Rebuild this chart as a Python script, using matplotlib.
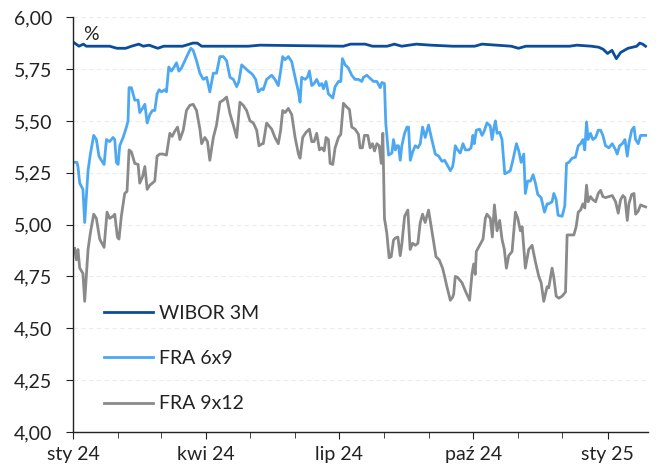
import matplotlib
matplotlib.use("Agg")
import matplotlib.pyplot as plt
import matplotlib.dates as mdates
import pandas as pd
import numpy as np

# ---- data (day offsets from 2024-01-01, values in %) ----
wibor_days = [0, 2, 4, 7, 9, 25, 30, 36, 40, 45, 48, 52, 58, 62, 75, 82, 85, 88, 120, 128,
              185, 190, 200, 205, 215, 220, 225, 235, 245, 260, 275, 280, 290, 300, 305, 310,
              340, 345, 355, 360, 363, 366, 369, 372, 375, 380, 383, 386, 388, 390, 392]
wibor_vals = [5.88, 5.87, 5.86, 5.87, 5.86, 5.86, 5.85, 5.85, 5.86, 5.87, 5.86, 5.865, 5.85, 5.86,
              5.86, 5.875, 5.875, 5.86, 5.86, 5.865, 5.86, 5.87, 5.87, 5.86, 5.86, 5.87, 5.86,
              5.87, 5.865, 5.86, 5.86, 5.87, 5.865, 5.86, 5.85, 5.86, 5.86, 5.865, 5.86, 5.855,
              5.845, 5.825, 5.84, 5.80, 5.83, 5.85, 5.855, 5.86, 5.875, 5.87, 5.86]

fra69_days = [1.0, 2.6, 3.3, 4.5, 6.7, 7.9, 10.2, 11.8, 14.1, 15.9, 17.7, 19.3, 21.2, 22.8, 25.0,
              27.3, 28.5, 29.6, 30.8, 31.9, 34.2, 36.5, 37.6, 38.3, 39.9, 42.2, 44.5, 45.6, 47.5,
              49.1, 50.7, 52.5, 54.3, 55.9, 57.5, 58.9, 60.5, 62.8, 63.9, 65.5, 67.3, 69.2, 70.8,
              72.4, 74.2, 76.5, 78.8, 80.6, 82.2, 84.5, 86.8, 89.1, 91.4, 93.6, 96.0, 98.2, 100.5,
              102.8, 105.1, 107.4, 109.7, 112.0, 113.5, 115.4, 117.7, 120.0, 122.7, 125.0, 126.8,
              129.1, 130.2, 132.5, 136.0, 138.2, 140.5, 142.1, 143.5, 145.1, 147.4, 149.7, 152.0,
              154.3, 155.4, 156.5, 158.8, 160.4, 161.8, 163.4, 165.0, 166.8, 168.7, 170.3, 171.4,
              173.2, 174.8, 176.4, 177.8, 179.4, 181.7, 183.3, 184.4, 186.3, 188.5, 190.8, 193.1,
              195.4, 197.7, 198.8, 201.1, 203.4, 205.7, 208.0, 210.3, 211.4, 213.2, 214.1, 216.0,
              217.1, 218.3, 219.4, 220.6, 221.7, 222.8, 224.0, 225.1, 227.0, 228.6, 229.7, 230.9,
              232.5, 234.3, 236.1, 237.7, 239.3, 241.1, 243.4, 245.3, 248.0, 250.3, 252.6, 254.4,
              256.0, 258.3, 259.9, 260.6, 261.7, 263.3, 265.1, 267.0, 268.6, 270.9, 272.5, 273.8,
              274.7, 276.1, 278.4, 280.0, 281.2, 283.4, 285.7, 286.9, 288.0, 289.2, 290.3, 292.1,
              293.7, 295.6, 297.2, 299.4, 301.3, 303.6, 305.2, 306.8, 308.6, 309.7, 311.3, 313.2,
              315.0, 316.6, 318.2, 320.5, 322.8, 324.6, 325.7, 328.0, 329.2, 330.8, 332.1, 334.9,
              336.7, 337.9, 339.5, 341.7, 344.0, 345.9, 347.5, 349.1, 350.4, 351.6, 352.7, 354.3,
              355.9, 357.8, 359.6, 361.2, 362.8, 364.6, 366.9, 369.2, 371.5, 372.6, 374.2, 376.1,
              377.9, 379.5, 380.6, 382.5, 384.1, 385.2, 387.0, 388.6, 392.1]
fra69_vals = [5.30, 5.30, 5.28, 5.20, 5.17, 5.01, 5.26, 5.34, 5.43, 5.41, 5.33, 5.31, 5.29, 5.41, 5.40,
              5.42, 5.41, 5.30, 5.29, 5.38, 5.42, 5.47, 5.50, 5.66, 5.66, 5.60, 5.60, 5.54, 5.56,
              5.58, 5.49, 5.53, 5.55, 5.55, 5.63, 5.65, 5.64, 5.65, 5.64, 5.76, 5.74, 5.76, 5.78,
              5.74, 5.755, 5.79, 5.825, 5.85, 5.84, 5.79, 5.73, 5.70, 5.71, 5.64, 5.73, 5.73, 5.81,
              5.81, 5.79, 5.71, 5.70, 5.665, 5.69, 5.77, 5.755, 5.74, 5.725, 5.70, 5.64,
              5.655, 5.65, 5.70, 5.72, 5.70, 5.67, 5.74, 5.81, 5.795, 5.81, 5.785, 5.71,
              5.64, 5.59, 5.71, 5.70, 5.71, 5.74, 5.67, 5.68, 5.70, 5.67, 5.68, 5.655,
              5.69, 5.63, 5.62, 5.61, 5.665, 5.69, 5.69, 5.80, 5.77, 5.755, 5.72, 5.70,
              5.70, 5.69, 5.71, 5.72, 5.705, 5.69, 5.69, 5.66, 5.685, 5.68, 5.49, 5.335,
              5.34, 5.345, 5.41, 5.36, 5.38, 5.38, 5.31, 5.38, 5.44, 5.47, 5.47, 5.31,
              5.35, 5.38, 5.37, 5.39, 5.47, 5.42, 5.48, 5.42, 5.34, 5.33, 5.305, 5.31,
              5.29, 5.26, 5.28, 5.31, 5.38, 5.36, 5.345, 5.39, 5.36, 5.36, 5.37, 5.43,
              5.39, 5.455, 5.46, 5.43, 5.445, 5.49, 5.475, 5.41, 5.46, 5.50, 5.44, 5.445,
              5.41, 5.245, 5.25, 5.26, 5.315, 5.39, 5.355, 5.30, 5.34, 5.15, 5.21, 5.21,
              5.24, 5.20, 5.145, 5.13, 5.06, 5.10, 5.10, 5.11, 5.15, 5.12, 5.045, 5.04,
              5.09, 5.295, 5.30, 5.32, 5.325, 5.38, 5.39, 5.41, 5.36, 5.495, 5.41, 5.44,
              5.41, 5.42, 5.455, 5.455, 5.43, 5.38, 5.37, 5.39, 5.36, 5.34, 5.38, 5.39,
              5.41, 5.33, 5.39, 5.455, 5.47, 5.41, 5.39, 5.43, 5.43]

fra912_days = [1.0, 2.2, 3.3, 4.5, 6.7, 7.9, 10.2, 11.8, 14.1, 15.9, 18.2, 21.2, 23.2, 25.0, 27.3,
               28.5, 30.3, 31.4, 33.0, 35.3, 36.9, 38.3, 39.9, 42.2, 44.5, 45.6, 47.5, 49.1, 50.7,
               52.5, 54.3, 55.9, 57.5, 59.3, 61.6, 63.9, 66.2, 67.8, 69.6, 71.5, 73.1, 75.4, 77.6,
               79.9, 82.2, 84.5, 86.8, 88.0, 90.2, 92.0, 93.6, 96.0, 98.2, 100.5, 102.8, 105.1,
               107.4, 109.7, 112.0, 114.2, 116.5, 118.8, 121.1, 123.4, 125.7, 127.3, 129.5, 130.2,
               132.5, 136.0, 138.2, 140.5, 142.1, 143.5, 145.1, 147.4, 149.7, 152.0, 154.3, 155.4,
               157.2, 159.5, 161.8, 163.4, 165.0, 166.8, 168.7, 170.3, 171.9, 173.2, 174.8, 176.0,
               177.8, 179.4, 181.7, 183.3, 185.1, 186.9, 189.2, 190.8, 193.1, 195.4, 196.5, 198.1,
               199.5, 201.8, 203.4, 205.0, 206.4, 208.0, 209.6, 211.0, 212.1, 213.2, 214.8, 216.4,
               217.8, 219.4, 220.6, 222.4, 224.0, 225.1, 227.0, 229.2, 230.8, 232.5, 234.3, 236.1,
               237.7, 239.3, 241.1, 243.4, 245.7, 248.5, 250.7, 253.0, 254.4, 256.0, 258.3, 259.9,
               260.6, 261.7, 263.3, 266.3, 268.6, 271.5, 273.1, 274.3, 275.4, 276.1, 278.4, 280.7,
               282.3, 283.4, 285.7, 287.1, 288.5, 290.3, 292.1, 293.7, 295.3, 296.7, 298.3, 300.6,
               302.9, 304.5, 306.3, 307.5, 309.7, 312.0, 314.3, 316.6, 318.9, 320.5, 322.3, 324.6,
               325.7, 328.0, 329.2, 330.8, 332.6, 334.9, 337.2, 338.3, 340.6, 342.9, 344.5, 345.9,
               347.5, 349.1, 350.4, 351.6, 352.7, 354.3, 355.9, 357.8, 359.6, 361.2, 362.8, 364.6,
               366.9, 369.2, 371.5, 373.3, 374.9, 376.5, 377.9, 379.5, 380.6, 382.5, 384.1, 385.2,
               387.0, 388.6, 390.2, 392.1]
fra912_vals = [4.885, 4.83, 4.88, 4.79, 4.765, 4.63, 4.88, 4.96, 5.05, 5.03, 4.93, 4.89, 5.06, 5.03, 5.04,
               5.05, 4.94, 4.93, 5.04, 5.15, 5.16, 5.36, 5.35, 5.295, 5.29, 5.20, 5.23, 5.28, 5.17,
               5.19, 5.20, 5.21, 5.33, 5.34, 5.34, 5.335, 5.44, 5.425, 5.45, 5.47, 5.41, 5.455, 5.55,
               5.575, 5.58, 5.55, 5.46, 5.39, 5.42, 5.40, 5.31, 5.42, 5.48, 5.59, 5.60, 5.615,
               5.535, 5.48, 5.42, 5.59, 5.575, 5.55, 5.50, 5.49, 5.455, 5.38, 5.39, 5.39,
               5.49, 5.46, 5.42, 5.39, 5.455, 5.55, 5.54, 5.56, 5.53, 5.42, 5.34, 5.32,
               5.42, 5.445, 5.46, 5.40, 5.40, 5.44, 5.36, 5.37, 5.355, 5.42, 5.41, 5.295,
               5.29, 5.37, 5.42, 5.435, 5.585, 5.57, 5.555, 5.47, 5.46, 5.435, 5.37, 5.37,
               5.43, 5.43, 5.37, 5.39, 5.355, 5.39, 5.38, 5.295, 5.44, 5.03, 4.96, 4.84,
               4.845, 4.925, 4.935, 4.94, 4.85, 4.905, 5.04, 5.07, 4.88, 4.91, 4.90, 4.91,
               5.01, 5.05, 5.01, 5.07, 4.97, 4.845, 4.83, 4.79, 4.75, 4.70, 4.635, 4.65,
               4.665, 4.75, 4.745, 4.72, 4.68, 4.635, 4.76, 4.81, 4.76, 4.87, 4.90, 4.93,
               5.03, 5.05, 5.03, 4.94, 5.095, 4.97, 5.02, 4.93, 4.88, 4.79, 4.85, 4.87,
               5.06, 5.03, 4.97, 4.99, 4.79, 4.88, 4.90, 4.82, 4.75, 4.72, 4.63, 4.70,
               4.695, 4.79, 4.745, 4.655, 4.645, 4.655, 4.675, 4.95, 4.95, 4.95, 4.99, 5.06,
               5.07, 5.10, 5.08, 5.19, 5.11, 5.135, 5.12, 5.11, 5.15, 5.165, 5.135, 5.13,
               5.135, 5.14, 5.11, 5.055, 5.12, 5.14, 5.13, 5.02, 5.10, 5.145, 5.15, 5.05,
               5.065, 5.095, 5.09, 5.085]

series_names = ["WIBOR 3M", "FRA 6x9", "FRA 9x12"]
major_tick_dates = ["2024-01-01", "2024-04-01", "2024-07-01", "2024-10-01", "2025-01-01"]
major_tick_labels = ["sty 24", "kwi 24", "lip 24", "paź 24", "sty 25"]
y_ticks = [4.00, 4.25, 4.50, 4.75, 5.00, 5.25, 5.50, 5.75, 6.00]

# ---- plotting ----
plt.rcParams['font.family'] = ['Lato', 'DejaVu Sans']
base = pd.Timestamp("2024-01-01")
def to_dates(days):
    return base + pd.to_timedelta(np.asarray(days), unit="D")

fig = plt.figure(figsize=(6.56, 4.73), dpi=100)
ax = fig.add_axes([0.1115, 0.0867, 0.877, 0.877])

colors = ["#0B4C9C", "#4DA8F2", "#8A8A8A"]
ax.plot(to_dates(wibor_days), wibor_vals, color=colors[0], lw=2.0, label=series_names[0])
ax.plot(to_dates(fra69_days), fra69_vals, color=colors[1], lw=2.0, label=series_names[1])
ax.plot(to_dates(fra912_days), fra912_vals, color=colors[2], lw=2.0, label=series_names[2])

ax.set_ylim(4.0, 6.0)
ax.set_xlim(base, base + pd.Timedelta(days=394))
ax.set_yticks(y_ticks)
ax.set_yticklabels([f"{v:.2f}".replace(".", ",") for v in y_ticks])
ax.set_xticks(pd.to_datetime(major_tick_dates))
ax.set_xticklabels(major_tick_labels)
ax.xaxis.set_minor_locator(mdates.MonthLocator())

for s in ["top", "right"]:
    ax.spines[s].set_visible(False)
for s in ["left", "bottom"]:
    ax.spines[s].set_color("#222222")
    ax.spines[s].set_linewidth(1.0)

ax.tick_params(axis="both", which="major", labelsize=14, colors="#222222", direction="out", length=5)
ax.tick_params(axis="x", which="minor", direction="out", length=4, color="#222222")
ax.tick_params(axis="x", which="major", pad=5)
ax.tick_params(axis="y", which="major", pad=10)
ax.grid(axis="y", color="#ececec", lw=0.8, ls=(0, (4, 3)))
ax.set_axisbelow(True)

ax.text(0.017, 0.978, "%", transform=ax.transAxes, fontsize=14, va="top", ha="left", color="#222222")

leg = ax.legend(loc="lower left", bbox_to_anchor=(0.024, 0.005), frameon=False, fontsize=14,
                handlelength=2.5, handletextpad=0.3, labelspacing=1.45)
for t in leg.get_texts():
    t.set_color("#222222")

fig.savefig("out.png", dpi=100)
